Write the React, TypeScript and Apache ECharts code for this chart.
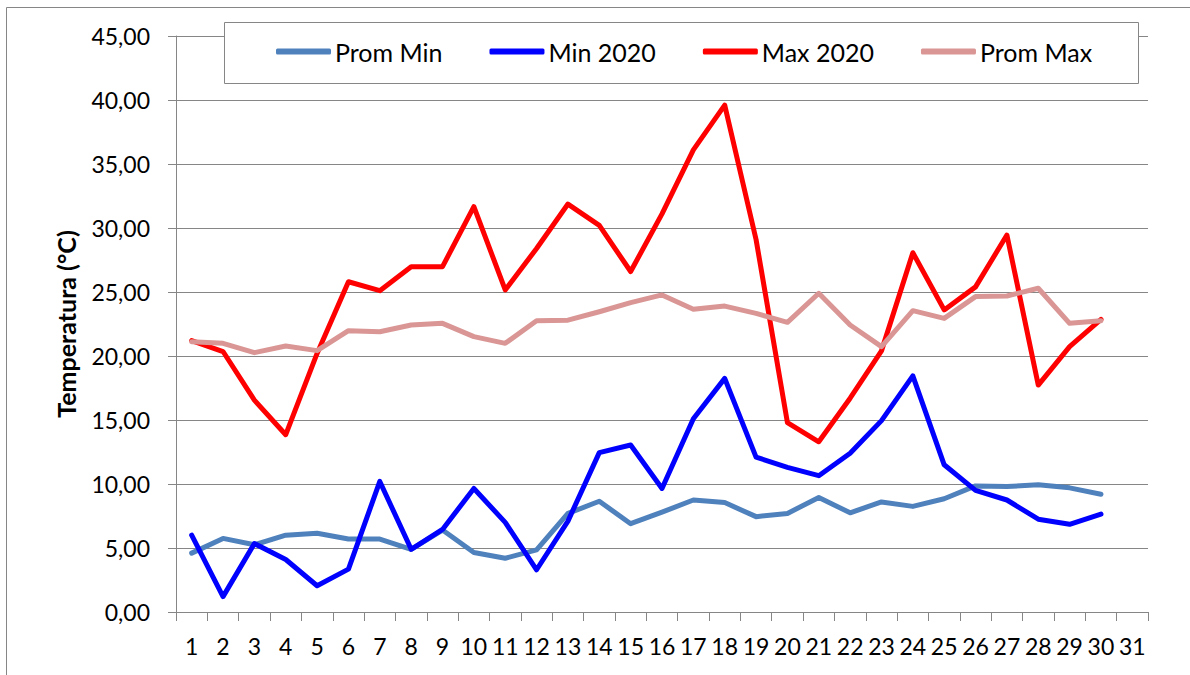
import React, { useEffect, useRef } from "react";
import * as echarts from "echarts";

const categories = Array.from({ length: 31 }, (_, i) => String(i + 1));
const yTicks = [0, 5, 10, 15, 20, 25, 30, 35, 40, 45];

const promMin = [4.6, 5.75, 5.25, 6.0, 6.15, 5.7, 5.7, 4.9, 6.4, 4.65, 4.2, 4.85, 7.7, 8.65, 6.9, 7.8, 8.75, 8.55, 7.45, 7.7, 8.95, 7.75, 8.6, 8.25, 8.85, 9.85, 9.8, 9.95, 9.7, 9.2];
const min2020 = [6.0, 1.2, 5.35, 4.1, 2.05, 3.35, 10.2, 4.9, 6.45, 9.65, 7.0, 3.3, 7.1, 12.45, 13.05, 9.65, 15.1, 18.25, 12.1, 11.3, 10.65, 12.4, 14.95, 18.45, 11.5, 9.5, 8.75, 7.25, 6.85, 7.65];
const max2020 = [21.2, 20.35, 16.55, 13.85, 20.2, 25.8, 25.1, 26.98, 26.98, 31.67, 25.16, 28.4, 31.87, 30.2, 26.6, 31.1, 36.1, 39.6, 29.1, 14.8, 13.3, 16.7, 20.4, 28.07, 23.6, 25.4, 29.45, 17.73, 20.73, 22.86];
const promMax = [21.12, 20.99, 20.26, 20.78, 20.42, 21.98, 21.9, 22.42, 22.55, 21.51, 20.99, 22.76, 22.8, 23.46, 24.17, 24.77, 23.65, 23.9, 23.33, 22.63, 24.9, 22.42, 20.73, 23.54, 22.94, 24.64, 24.69, 25.29, 22.55, 22.76];

const seriesNames = ["Prom Min", "Min 2020", "Max 2020", "Prom Max"];
const seriesColors = ["#4F81BD", "#0000FF", "#FF0000", "#D99694"];
const seriesData = [promMin, min2020, max2020, promMax];

const FONT = "Lato, 'Noto Sans', sans-serif";
const GRAY = "#868686";

export default function App() {
  const ref = useRef<HTMLDivElement>(null);
  useEffect(() => {
    if (!ref.current) return;
    const chart = echarts.init(ref.current, null, { renderer: "svg" });
    chart.setOption({
      animation: false,
      backgroundColor: "#ffffff",
      textStyle: { fontFamily: FONT },
      grid: { left: 176, right: 42, top: 36, bottom: 63, containLabel: false },
      graphic: [
        {
          type: "rect",
          shape: { x: 6.5, y: 7.5, width: 1200, height: 700 },
          style: { fill: "none", stroke: GRAY, lineWidth: 1 },
          z: 1,
          silent: true,
        },
        {
          type: "rect",
          shape: { x: 224.5, y: 22.5, width: 914, height: 61 },
          style: { fill: "#ffffff", stroke: GRAY, lineWidth: 1 },
          z: 3,
          silent: true,
        },
      ],
      legend: {
        left: 276,
        top: 39,
        itemGap: 47,
        itemWidth: 55,
        itemHeight: 6,
        icon: "roundRect",
        padding: 0,
        z: 5,
        textStyle: { fontFamily: FONT, fontSize: 25, color: "#000", padding: [0, 0, 0, -1] },
        data: seriesNames,
      },
      xAxis: {
        type: "category",
        data: categories,
        boundaryGap: true,
        axisLine: { lineStyle: { color: GRAY, width: 1 } },
        axisTick: { show: true, length: 9, alignWithLabel: false, interval: 0, lineStyle: { color: GRAY } },
        axisLabel: { interval: 0, fontSize: 23, color: "#000", fontFamily: FONT, margin: 22 },
        splitLine: { show: false },
      },
      yAxis: {
        type: "value",
        min: yTicks[0],
        max: yTicks[yTicks.length - 1],
        interval: 5,
        name: "Temperatura (°C)",
        nameLocation: "middle",
        nameGap: 98,
        nameTextStyle: { fontSize: 25, fontWeight: "bold", color: "#000", fontFamily: FONT },
        axisLine: { show: true, lineStyle: { color: GRAY, width: 1 } },
        axisTick: { show: true, length: 8, lineStyle: { color: GRAY } },
        axisLabel: {
          fontSize: 23,
          color: "#000",
          fontFamily: FONT,
          margin: 26,
          formatter: (v: number) => v.toFixed(2).replace(".", ","),
        },
        splitLine: { show: true, lineStyle: { color: GRAY, width: 1 } },
      },
      series: seriesNames.map((name, i) => ({
        name,
        type: "line",
        data: seriesData[i],
        symbol: "none",
        smooth: false,
        z: 2 + i * 0.1,
        itemStyle: { color: seriesColors[i] },
        lineStyle: { color: seriesColors[i], width: 5, cap: "round", join: "round" },
      })),
    });
    return () => chart.dispose();
  }, []);
  return (
    <div
      ref={ref}
      style={{ position: "fixed", left: 0, top: 0, width: 1190, height: 675, background: "#fff" }}
    />
  );
}
